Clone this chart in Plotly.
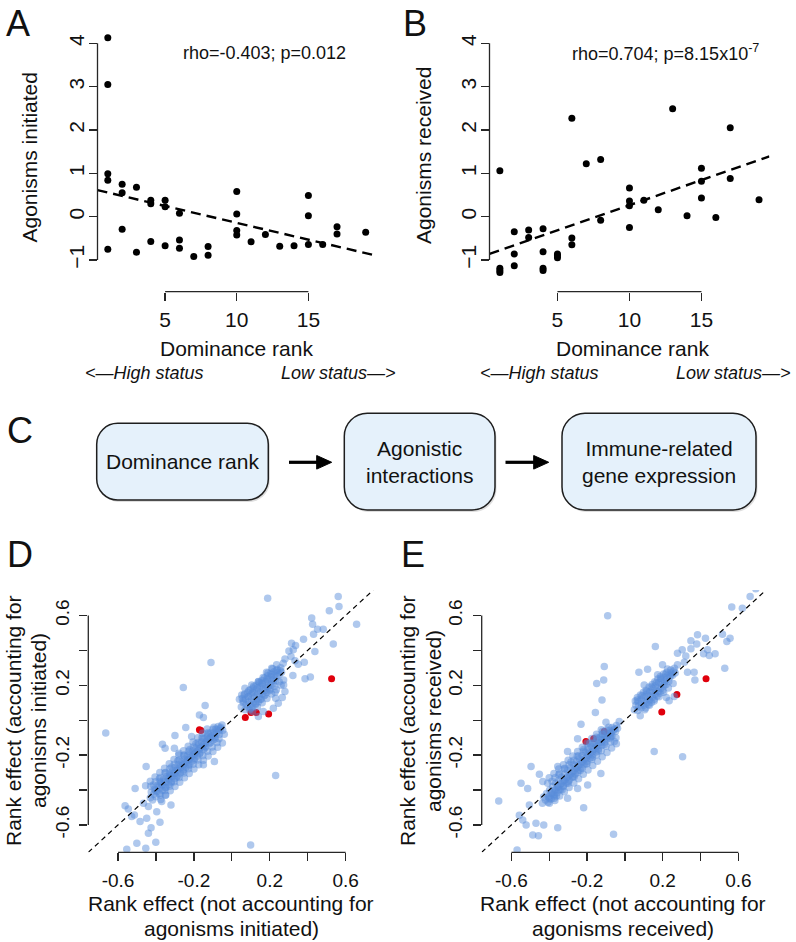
import plotly.graph_objects as go

W, H = 796, 942
FONT = "Liberation Sans, Arial, Helvetica, sans-serif"


def px(x):
    return x / W


def py(y):
    return 1 - y / H


# ---------------- Panel A / B data ----------------
rank_A = [1, 1, 1, 1, 1, 2, 2, 2, 3, 3, 4, 4, 4, 5, 5, 5, 6, 6, 6, 7, 8, 8,
          10, 10, 10, 10, 11, 12, 13, 14, 15, 15, 15, 16, 17, 17, 19]
agon_init = [4.13, 3.05, 0.99, 0.84, -0.75, 0.75, 0.55, -0.29, 0.68, -0.82,
             0.38, 0.30, -0.57, 0.38, 0.23, -0.67, 0.08, -0.54, -0.73, -0.92,
             -0.69, -0.89, 0.58, 0.06, -0.32, -0.42, -0.58, -0.41, -0.68, -0.67,
             0.49, 0.02, -0.64, -0.64, -0.23, -0.40, -0.36]

rank_B = [1, 1, 1, 1, 2, 2, 2, 3, 3, 4, 4, 4, 4, 5, 5, 5, 6, 6, 6, 7, 8, 8,
          10, 10, 10, 10, 11, 12, 13, 14, 15, 15, 15, 16, 17, 17, 19]
agon_recv = [1.06, -1.19, -1.24, -1.29, -0.35, -0.86, -1.13, -0.31, -0.48,
             -0.28, -0.81, -1.19, -1.24, -0.86, -0.90, -0.95, 2.27, -0.49, -0.65,
             1.22, 1.32, -0.08, 0.66, 0.36, 0.25, -0.25, 0.38, 0.16, 2.49, 0.02,
             1.12, 0.82, 0.43, -0.02, 2.05, 0.88, 0.39]

fit_A = {"intercept": 0.635, "slope": -0.0777}
fit_B = {"intercept": -0.89, "slope": 0.1156}
stats_A = "rho=-0.403; p=0.012"
stats_B = "rho=0.704; p=8.15x10<sup>-7</sup>"

rank_range = [0.28, 19.72]
agon_range = [-1.507, 4.347]
rank_ticks = [5, 10, 15]
agon_ticks = [-1, 0, 1, 2, 3, 4]

# ---------------- Panel C ----------------
flow_boxes = ["Dominance rank", "Agonistic<br>interactions",
              "Immune-related<br>gene expression"]

# ---------------- Panel D / E data ----------------
effect_range = [-0.757, 0.746]
effect_label_ticks = [-0.6, -0.2, 0.2, 0.6]
effect_minor_ticks = [-0.4, 0, 0.4]
effect_ticktext = ["-0.6", "-0.2", "0.2", "0.6"]

d_core_neg = [
    (-0.052, -0.028), (-0.060, -0.048), (-0.048, -0.058), (-0.072, -0.036), (-0.070, -0.062),
    (-0.085, -0.050), (-0.080, -0.075), (-0.095, -0.070), (-0.066, -0.082), (-0.100, -0.052),
    (-0.105, -0.090), (-0.090, -0.098), (-0.115, -0.075), (-0.118, -0.105), (-0.100, -0.115),
    (-0.128, -0.092), (-0.135, -0.122), (-0.120, -0.135), (-0.145, -0.105), (-0.150, -0.140),
    (-0.138, -0.152), (-0.160, -0.125), (-0.165, -0.158), (-0.150, -0.170), (-0.175, -0.140),
    (-0.180, -0.175), (-0.168, -0.188), (-0.190, -0.160), (-0.195, -0.192), (-0.182, -0.205),
    (-0.205, -0.175), (-0.210, -0.208), (-0.196, -0.220), (-0.220, -0.190), (-0.225, -0.225),
    (-0.212, -0.238), (-0.236, -0.205), (-0.240, -0.240), (-0.226, -0.254), (-0.250, -0.222),
    (-0.255, -0.256), (-0.242, -0.270), (-0.266, -0.238), (-0.270, -0.272), (-0.256, -0.286),
    (-0.282, -0.255), (-0.286, -0.288), (-0.272, -0.302), (-0.298, -0.270), (-0.300, -0.305),
    (-0.288, -0.318), (-0.312, -0.288), (-0.316, -0.322), (-0.302, -0.335), (-0.328, -0.304),
    (-0.332, -0.338), (-0.318, -0.352), (-0.344, -0.322), (-0.348, -0.355), (-0.334, -0.368),
    (-0.360, -0.340), (-0.364, -0.372), (-0.350, -0.385), (-0.376, -0.358), (-0.380, -0.390),
    (-0.366, -0.402), (-0.392, -0.376), (-0.396, -0.408), (-0.382, -0.420), (-0.408, -0.396),
    (-0.412, -0.425), (-0.400, -0.438), (-0.425, -0.412), (-0.430, -0.445), (-0.418, -0.458),
    (-0.058, -0.040), (-0.078, -0.055), (-0.092, -0.082), (-0.110, -0.098), (-0.125, -0.110),
    (-0.140, -0.132), (-0.155, -0.148), (-0.172, -0.165), (-0.188, -0.182), (-0.202, -0.196),
    (-0.218, -0.214), (-0.232, -0.228), (-0.248, -0.244), (-0.262, -0.258), (-0.278, -0.272),
    (-0.292, -0.290), (-0.308, -0.304), (-0.322, -0.318), (-0.338, -0.334), (-0.354, -0.350),
    (-0.370, -0.368), (-0.386, -0.384), (-0.402, -0.402),
    (-0.088, -0.108), (-0.112, -0.128), (-0.142, -0.160), (-0.170, -0.192), (-0.200, -0.228),
    (-0.228, -0.262), (-0.258, -0.292), (-0.290, -0.325), (-0.320, -0.358), (-0.348, -0.386),
    (-0.095, -0.040), (-0.125, -0.070), (-0.158, -0.100), (-0.190, -0.135), (-0.222, -0.168),
    (-0.252, -0.200), (-0.285, -0.232), (-0.318, -0.268), (-0.350, -0.300), (-0.382, -0.335),
    (-0.050, -0.130), (-0.075, -0.155), (-0.100, -0.180), (-0.125, -0.205), (-0.150, -0.230),
    (-0.175, -0.255), (-0.200, -0.280), (-0.225, -0.305), (-0.250, -0.330), (-0.275, -0.355),
    (-0.300, -0.380), (-0.325, -0.405), (-0.350, -0.430), (-0.375, -0.455),
    (-0.130, -0.050), (-0.155, -0.075), (-0.180, -0.100), (-0.205, -0.125), (-0.230, -0.150),
    (-0.255, -0.175), (-0.280, -0.200), (-0.305, -0.225), (-0.330, -0.250), (-0.355, -0.275),
    (-0.380, -0.300), (-0.405, -0.325), (-0.430, -0.350), (-0.455, -0.375),
    (-0.078, -0.128), (-0.103, -0.153), (-0.128, -0.178), (-0.153, -0.203), (-0.178, -0.228),
    (-0.203, -0.253), (-0.228, -0.278), (-0.253, -0.303), (-0.278, -0.328), (-0.303, -0.353),
    (-0.328, -0.378), (-0.353, -0.403), (-0.378, -0.428),
    (-0.128, -0.078), (-0.153, -0.103), (-0.178, -0.128), (-0.203, -0.153), (-0.228, -0.178),
    (-0.253, -0.203), (-0.278, -0.228), (-0.303, -0.253), (-0.328, -0.278), (-0.353, -0.303),
    (-0.378, -0.328), (-0.403, -0.353), (-0.428, -0.378),
]

d_core_pos = [
    (0.050, 0.075), (0.060, 0.100), (0.055, 0.125), (0.070, 0.060), (0.075, 0.090), (0.072, 0.120),
    (0.068, 0.150), (0.085, 0.075), (0.090, 0.105), (0.088, 0.135), (0.084, 0.160), (0.095, 0.060),
    (0.100, 0.090), (0.105, 0.120), (0.102, 0.150), (0.098, 0.175), (0.110, 0.075), (0.115, 0.105),
    (0.120, 0.135), (0.118, 0.160), (0.125, 0.090), (0.112, 0.185), (0.130, 0.120), (0.135, 0.150),
    (0.132, 0.175), (0.140, 0.105), (0.128, 0.200), (0.145, 0.135), (0.150, 0.165), (0.148, 0.190),
    (0.155, 0.120), (0.145, 0.215), (0.160, 0.150), (0.165, 0.180), (0.162, 0.205), (0.170, 0.140),
    (0.158, 0.228), (0.175, 0.170), (0.180, 0.195), (0.178, 0.220), (0.185, 0.160), (0.172, 0.242),
    (0.190, 0.185), (0.195, 0.210), (0.192, 0.235), (0.200, 0.178), (0.188, 0.255), (0.205, 0.200),
    (0.210, 0.225), (0.208, 0.250), (0.218, 0.210), (0.205, 0.268), (0.220, 0.235), (0.225, 0.258),
    (0.232, 0.228), (0.222, 0.278), (0.238, 0.250), (0.242, 0.272), (0.250, 0.262), (0.240, 0.290),
    (0.255, 0.285), (0.262, 0.275), (0.258, 0.300),
    (0.040, 0.120), (0.065, 0.145), (0.090, 0.170), (0.115, 0.195), (0.140, 0.220), (0.165, 0.245),
    (0.190, 0.270), (0.215, 0.295),
    (0.110, 0.050), (0.135, 0.075), (0.160, 0.100), (0.185, 0.125), (0.210, 0.150), (0.235, 0.175),
    (0.260, 0.200),
    (0.060, 0.110), (0.085, 0.135), (0.110, 0.160), (0.135, 0.185), (0.160, 0.210), (0.185, 0.235),
    (0.210, 0.260), (0.235, 0.285),
    (0.100, 0.070), (0.125, 0.095), (0.150, 0.120), (0.175, 0.145), (0.200, 0.170), (0.225, 0.195),
    (0.250, 0.220),
]

d_spread = [
    (0.189, 0.699), (0.561, 0.709), (0.565, 0.651), (0.514, 0.627), (0.658, 0.550), (0.421, 0.585),
    (0.426, 0.550), (0.482, 0.521), (0.452, 0.521), (0.431, 0.493), (0.535, 0.436), (0.438, 0.394),
    (0.378, 0.464), (0.315, 0.441), (0.336, 0.428), (0.324, 0.403), (0.301, 0.397), (0.280, 0.351),
    (0.312, 0.365), (0.333, 0.340), (0.350, 0.321), (0.382, 0.332), (0.386, 0.237), (0.414, 0.248),
    (0.322, 0.256), (0.273, 0.231), (0.273, 0.202), (0.228, 0.160), (0.266, 0.130), (0.231, 0.126),
    (-0.110, 0.330), (-0.256, 0.187), (-0.141, 0.084), (-0.171, 0.030), (-0.150, 0.015),
    (-0.243, -0.042), (-0.665, -0.073), (0.231, -0.317), (0.099, -0.715),
    (-0.554, -0.740), (-0.454, -0.734), (-0.501, -0.705), (-0.401, -0.700), (-0.440, -0.648),
    (-0.426, -0.616), (-0.379, -0.585), (-0.484, -0.581), (-0.449, -0.562), (-0.528, -0.552),
    (-0.563, -0.490), (-0.546, -0.509), (-0.514, -0.543), (-0.510, -0.391), (-0.452, -0.266),
    (-0.366, -0.138), (-0.352, -0.161), (-0.303, -0.161), (-0.300, -0.088), (-0.279, -0.190),
    (-0.092, -0.237), (-0.150, -0.256), (-0.068, -0.107), (-0.040, -0.080),
    (-0.466, -0.476), (-0.440, -0.495), (-0.370, -0.466), (-0.321, -0.486), (-0.396, -0.524),
    (-0.349, -0.428), (-0.379, -0.352), (-0.414, -0.371), (-0.326, -0.314), (-0.212, -0.094),
    (0.105, 0.202), (0.140, 0.221), (0.183, 0.275), (0.210, 0.298), (0.236, 0.317), (0.271, 0.326),
    (0.052, 0.145), (0.069, 0.183), (0.140, 0.021), (0.166, 0.050), (0.219, 0.069), (0.245, 0.097),
    (0.280, 0.164),
]

d_red = [(0.526, 0.237), (0.194, 0.036), (0.129, 0.044), (0.101, 0.044), (0.071, 0.015),
         (-0.171, -0.055), (-0.163, -0.059)]

e_core_neg = [
    (-0.045, -0.030), (-0.055, -0.050), (-0.050, -0.065), (-0.068, -0.042), (-0.070, -0.068),
    (-0.082, -0.058), (-0.080, -0.085), (-0.095, -0.075), (-0.068, -0.090), (-0.098, -0.055),
    (-0.108, -0.095), (-0.095, -0.108), (-0.118, -0.080), (-0.122, -0.112), (-0.106, -0.125),
    (-0.132, -0.098), (-0.138, -0.130), (-0.122, -0.145), (-0.148, -0.115), (-0.152, -0.150),
    (-0.140, -0.165), (-0.162, -0.132), (-0.168, -0.168), (-0.152, -0.182), (-0.178, -0.150),
    (-0.184, -0.186), (-0.170, -0.200), (-0.194, -0.168), (-0.198, -0.204), (-0.184, -0.218),
    (-0.210, -0.185), (-0.214, -0.222), (-0.200, -0.236), (-0.226, -0.202), (-0.230, -0.240),
    (-0.216, -0.254), (-0.240, -0.220), (-0.246, -0.258), (-0.232, -0.272), (-0.256, -0.238),
    (-0.262, -0.276), (-0.248, -0.290), (-0.272, -0.255), (-0.276, -0.294), (-0.262, -0.308),
    (-0.288, -0.272), (-0.292, -0.312), (-0.278, -0.326), (-0.304, -0.290), (-0.308, -0.330),
    (-0.294, -0.344), (-0.318, -0.308), (-0.324, -0.348), (-0.310, -0.362), (-0.334, -0.326),
    (-0.340, -0.366), (-0.326, -0.380), (-0.350, -0.344), (-0.356, -0.384), (-0.342, -0.398),
    (-0.366, -0.362), (-0.372, -0.402), (-0.358, -0.416), (-0.382, -0.380), (-0.388, -0.420),
    (-0.374, -0.434), (-0.398, -0.400), (-0.404, -0.440), (-0.390, -0.452), (-0.414, -0.420),
    (-0.420, -0.458), (-0.406, -0.470), (-0.430, -0.440), (-0.436, -0.476),
    (-0.060, -0.058), (-0.076, -0.074), (-0.092, -0.092), (-0.110, -0.110), (-0.126, -0.128),
    (-0.142, -0.146), (-0.158, -0.164), (-0.174, -0.182), (-0.190, -0.200), (-0.206, -0.218),
    (-0.222, -0.236), (-0.238, -0.254), (-0.254, -0.272), (-0.270, -0.290), (-0.286, -0.308),
    (-0.302, -0.326), (-0.318, -0.344), (-0.334, -0.362), (-0.350, -0.380), (-0.366, -0.398),
    (-0.382, -0.416), (-0.398, -0.434),
    (-0.085, -0.040), (-0.118, -0.065), (-0.150, -0.098), (-0.185, -0.132), (-0.218, -0.168),
    (-0.252, -0.205), (-0.285, -0.240), (-0.318, -0.275), (-0.350, -0.312), (-0.385, -0.350),
    (-0.078, -0.102), (-0.108, -0.140), (-0.140, -0.176), (-0.172, -0.212), (-0.204, -0.250),
    (-0.236, -0.288), (-0.268, -0.324), (-0.300, -0.362), (-0.332, -0.398), (-0.362, -0.434),
    (-0.045, -0.135), (-0.070, -0.160), (-0.095, -0.185), (-0.120, -0.210), (-0.145, -0.235),
    (-0.170, -0.260), (-0.195, -0.285), (-0.220, -0.310), (-0.245, -0.335), (-0.270, -0.360),
    (-0.295, -0.385), (-0.320, -0.410), (-0.345, -0.435), (-0.370, -0.460),
    (-0.125, -0.055), (-0.150, -0.080), (-0.175, -0.105), (-0.200, -0.130), (-0.225, -0.155),
    (-0.250, -0.180), (-0.275, -0.205), (-0.300, -0.230), (-0.325, -0.255), (-0.350, -0.280),
    (-0.375, -0.305), (-0.400, -0.330),
    (-0.075, -0.125), (-0.100, -0.150), (-0.125, -0.175), (-0.150, -0.200), (-0.175, -0.225),
    (-0.200, -0.250), (-0.225, -0.275), (-0.250, -0.300), (-0.275, -0.325), (-0.300, -0.350),
    (-0.325, -0.375), (-0.350, -0.400), (-0.375, -0.425), (-0.400, -0.450),
    (-0.120, -0.080), (-0.145, -0.105), (-0.170, -0.130), (-0.195, -0.155), (-0.220, -0.180),
    (-0.245, -0.205), (-0.270, -0.230), (-0.295, -0.255), (-0.320, -0.280), (-0.345, -0.305),
    (-0.370, -0.330),
]

e_core_pos = [
    (0.050, 0.060), (0.058, 0.085), (0.055, 0.110), (0.068, 0.055), (0.072, 0.080), (0.070, 0.105),
    (0.066, 0.130), (0.085, 0.070), (0.088, 0.095), (0.086, 0.120), (0.082, 0.145), (0.100, 0.085),
    (0.104, 0.110), (0.102, 0.135), (0.098, 0.160), (0.110, 0.070), (0.116, 0.100), (0.120, 0.125),
    (0.118, 0.150), (0.124, 0.090), (0.112, 0.172), (0.130, 0.115), (0.135, 0.140), (0.132, 0.165),
    (0.140, 0.102), (0.128, 0.190), (0.146, 0.132), (0.150, 0.158), (0.148, 0.182), (0.155, 0.120),
    (0.144, 0.205), (0.160, 0.148), (0.165, 0.172), (0.162, 0.198), (0.170, 0.138), (0.158, 0.220),
    (0.176, 0.165), (0.180, 0.190), (0.178, 0.214), (0.186, 0.155), (0.174, 0.236), (0.190, 0.182),
    (0.196, 0.206), (0.192, 0.230), (0.200, 0.172), (0.188, 0.250), (0.206, 0.198), (0.210, 0.222),
    (0.208, 0.246), (0.218, 0.205), (0.204, 0.264), (0.220, 0.232), (0.226, 0.254), (0.232, 0.222),
    (0.222, 0.274), (0.238, 0.248), (0.244, 0.270), (0.252, 0.258), (0.242, 0.288), (0.258, 0.282),
    (0.266, 0.270), (0.262, 0.298),
    (0.065, 0.115), (0.090, 0.140), (0.115, 0.165), (0.140, 0.190), (0.165, 0.215), (0.190, 0.240),
    (0.215, 0.265),
    (0.105, 0.060), (0.130, 0.085), (0.155, 0.110), (0.180, 0.135), (0.205, 0.160), (0.230, 0.185),
    (0.255, 0.210),
]

e_spread = [
    (-0.091, 0.598), (0.692, 0.753), (0.662, 0.709), (0.565, 0.648), (0.621, 0.642), (0.516, 0.493),
    (0.556, 0.470), (0.539, 0.451), (0.528, 0.298), (0.477, 0.380), (0.446, 0.370), (0.416, 0.380),
    (0.437, 0.403), (0.384, 0.489), (0.426, 0.470), (0.380, 0.436), (0.349, 0.455), (0.349, 0.409),
    (0.303, 0.403), (0.278, 0.384), (0.322, 0.368), (0.370, 0.231), (0.331, 0.275), (0.366, 0.275),
    (0.161, 0.422), (0.074, 0.275), (0.120, 0.292), (0.081, 0.025), (0.219, 0.130), (0.234, 0.111),
    (0.261, 0.136), (0.155, -0.180), (0.305, -0.209),
    (-0.109, 0.307), (-0.149, 0.210), (-0.112, 0.231), (-0.121, 0.116), (-0.156, 0.044),
    (-0.100, -0.012), (-0.232, -0.023), (-0.030, -0.008), (-0.047, -0.100), (-0.250, -0.107),
    (-0.127, -0.306),
    (-0.496, -0.266), (-0.549, -0.362), (-0.514, -0.391), (-0.452, -0.310), (-0.434, -0.352),
    (-0.408, -0.362), (-0.505, -0.486), (-0.558, -0.544), (-0.540, -0.572), (-0.487, -0.658),
    (-0.457, -0.662), (-0.355, -0.616), (-0.429, -0.600), (-0.470, -0.591), (-0.522, -0.600),
    (-0.218, -0.502), (-0.570, -0.744), (-0.667, -0.463), (-0.060, -0.654),
    (-0.303, -0.180), (-0.355, -0.266), (-0.373, -0.448), (-0.399, -0.476), (-0.303, -0.448),
    (-0.250, -0.391), (-0.197, -0.371), (-0.074, -0.094), (-0.039, -0.046), (-0.056, -0.122),
    (0.243, 0.260), (0.278, 0.317), (0.314, 0.332), (0.225, 0.294), (0.199, 0.317), (0.173, 0.260),
    (0.102, 0.202),
]

e_red = [(0.429, 0.237), (0.275, 0.147), (0.195, 0.047), (-0.109, -0.065), (-0.165, -0.107),
         (-0.206, -0.122)]

# ---------------- styles ----------------
BLUE = "rgba(88,140,218,0.48)"
RED = "#e0000c"
AXC = "#262626"

fig = go.Figure()


def xs(pts):
    return [p[0] for p in pts]


def ys(pts):
    return [p[1] for p in pts]


# Panel A
fig.add_trace(go.Scatter(x=rank_A, y=agon_init, mode="markers", xaxis="x", yaxis="y",
                         marker=dict(color="black", size=7), showlegend=False))
fig.add_trace(go.Scatter(x=rank_range,
                         y=[fit_A["intercept"] + fit_A["slope"] * v for v in rank_range],
                         mode="lines", xaxis="x", yaxis="y",
                         line=dict(color="black", width=2.4, dash="10px,6px"), showlegend=False))
# Panel B
fig.add_trace(go.Scatter(x=rank_B, y=agon_recv, mode="markers", xaxis="x2", yaxis="y2",
                         marker=dict(color="black", size=7), showlegend=False))
fig.add_trace(go.Scatter(x=rank_range,
                         y=[fit_B["intercept"] + fit_B["slope"] * v for v in rank_range],
                         mode="lines", xaxis="x2", yaxis="y2",
                         line=dict(color="black", width=2.4, dash="10px,6px"), showlegend=False))

# Panel D
d_blue = d_spread + d_core_neg + d_core_pos
fig.add_trace(go.Scatter(x=xs(d_red), y=ys(d_red), mode="markers", xaxis="x3", yaxis="y3",
                         marker=dict(color=RED, size=7), showlegend=False))
fig.add_trace(go.Scatter(x=xs(d_blue), y=ys(d_blue), mode="markers", xaxis="x3", yaxis="y3",
                         marker=dict(color=BLUE, size=7.5), showlegend=False))
fig.add_trace(go.Scatter(x=effect_range, y=effect_range, mode="lines", xaxis="x3", yaxis="y3",
                         line=dict(color="black", width=1.2, dash="5px,4px"), showlegend=False))
# Panel E
e_blue = e_spread + e_core_neg + e_core_pos
fig.add_trace(go.Scatter(x=xs(e_red), y=ys(e_red), mode="markers", xaxis="x4", yaxis="y4",
                         marker=dict(color=RED, size=7), showlegend=False))
fig.add_trace(go.Scatter(x=xs(e_blue), y=ys(e_blue), mode="markers", xaxis="x4", yaxis="y4",
                         marker=dict(color=BLUE, size=7.5), showlegend=False))
fig.add_trace(go.Scatter(x=effect_range, y=effect_range, mode="lines", xaxis="x4", yaxis="y4",
                         line=dict(color="black", width=1.2, dash="5px,4px"), showlegend=False))

tick_common = dict(ticks="outside", ticklen=8, tickwidth=1.3, tickcolor=AXC,
                   showline=False, showgrid=False, zeroline=False, fixedrange=True)
minor_common = dict(tickvals=effect_minor_ticks, ticks="outside", ticklen=8, tickwidth=1.3,
                    tickcolor=AXC, showgrid=False)

AB_Y_DOMAIN = [py(282.0), py(28.3)]
DE_Y_DOMAIN = [py(852.3), py(590)]

layout = dict(
    width=W, height=H, margin=dict(l=0, r=0, t=0, b=0),
    paper_bgcolor="white", plot_bgcolor="white",
    font=dict(family=FONT, color="#111"),
    hovermode=False,
    xaxis=dict(domain=[px(97.5), px(376)], range=rank_range, anchor="free",
               position=py(291.7), tickvals=rank_ticks, tickfont=dict(size=21),
               ticklabelstandoff=1, **tick_common),
    yaxis=dict(domain=AB_Y_DOMAIN, range=agon_range, anchor="x",
               tickvals=agon_ticks, tickangle=-90, tickfont=dict(size=21),
               ticklabelstandoff=-4, **tick_common),
    xaxis2=dict(domain=[px(489.5), px(769.4)], range=rank_range, anchor="free",
                position=py(291.7), tickvals=rank_ticks, tickfont=dict(size=21),
                ticklabelstandoff=1, **tick_common),
    yaxis2=dict(domain=AB_Y_DOMAIN, range=agon_range, anchor="x2",
                tickvals=agon_ticks, tickangle=-90, tickfont=dict(size=21),
                ticklabelstandoff=-4, **tick_common),
    xaxis3=dict(domain=[px(88.3), px(373.3)], range=effect_range, anchor="y3",
                tickvals=effect_label_ticks, ticktext=effect_ticktext, tickfont=dict(size=19),
                minor=minor_common, ticklabelstandoff=3, **tick_common),
    yaxis3=dict(domain=DE_Y_DOMAIN, range=effect_range, anchor="x3",
                tickvals=effect_label_ticks, ticktext=effect_ticktext, tickangle=-90,
                minor=minor_common, tickfont=dict(size=19), ticklabelstandoff=3, **tick_common),
    xaxis4=dict(domain=[px(481.7), px(766)], range=effect_range, anchor="y4",
                tickvals=effect_label_ticks, ticktext=effect_ticktext, tickfont=dict(size=19),
                minor=minor_common, ticklabelstandoff=3, **tick_common),
    yaxis4=dict(domain=DE_Y_DOMAIN, range=effect_range, anchor="x4",
                tickvals=effect_label_ticks, ticktext=effect_ticktext, tickangle=-90,
                minor=minor_common, tickfont=dict(size=19), ticklabelstandoff=3, **tick_common),
)

shapes = []


def axis_line_x(xref, v0, v1, ypix):
    shapes.append(dict(type="line", xref=xref, yref="paper", x0=v0, x1=v1,
                       y0=py(ypix), y1=py(ypix), line=dict(color=AXC, width=1.3)))


def axis_line_y(yref, v0, v1, xpix):
    shapes.append(dict(type="line", xref="paper", yref=yref, x0=px(xpix), x1=px(xpix),
                       y0=v0, y1=v1, line=dict(color=AXC, width=1.3)))


axis_line_x("x", rank_ticks[0], rank_ticks[-1], 291.7)
axis_line_y("y", agon_ticks[0], agon_ticks[-1], 97.5)
axis_line_x("x2", rank_ticks[0], rank_ticks[-1], 291.7)
axis_line_y("y2", agon_ticks[0], agon_ticks[-1], 489.5)
axis_line_x("x3", effect_label_ticks[0], effect_label_ticks[-1], 852.3)
axis_line_y("y3", effect_label_ticks[0], effect_label_ticks[-1], 88.3)
axis_line_x("x4", effect_label_ticks[0], effect_label_ticks[-1], 852.3)
axis_line_y("y4", effect_label_ticks[0], effect_label_ticks[-1], 481.7)


def rrect_path(x0, y0, x1, y1, r):
    k = 0.5523 * r
    pts = [
        ("M", [(x0 + r, y0)]),
        ("L", [(x1 - r, y0)]),
        ("C", [(x1 - r + k, y0), (x1, y0 + r - k), (x1, y0 + r)]),
        ("L", [(x1, y1 - r)]),
        ("C", [(x1, y1 - r + k), (x1 - r + k, y1), (x1 - r, y1)]),
        ("L", [(x0 + r, y1)]),
        ("C", [(x0 + r - k, y1), (x0, y1 - r + k), (x0, y1 - r)]),
        ("L", [(x0, y0 + r)]),
        ("C", [(x0, y0 + r - k), (x0 + r - k, y0), (x0 + r, y0)]),
    ]
    s = ""
    for cmd, ps in pts:
        s += cmd + " " + " ".join(f"{px(a):.5f},{py(b):.5f}" for a, b in ps) + " "
    return s + "Z"


box_geom = [(96.7, 423.3, 268.3, 500.0, 21), (344.3, 413.3, 495.0, 510.0, 23),
            (562.0, 413.3, 756.0, 510.0, 23)]
for (x0, y0, x1, y1, r) in box_geom:
    shapes.append(dict(type="path", xref="paper", yref="paper",
                       path=rrect_path(x0 + 1.5, y0 + 2, x1 + 1.5, y1 + 2, r),
                       fillcolor="rgba(0,0,0,0.13)", line=dict(width=0)))
    shapes.append(dict(type="path", xref="paper", yref="paper",
                       path=rrect_path(x0, y0, x1, y1, r),
                       fillcolor="#e5f1fb", line=dict(color="#1e1e1e", width=1.5)))

for (xa, xb) in [(289, 331.7), (505.5, 548.7)]:
    yc = 462.3
    shapes.append(dict(type="line", xref="paper", yref="paper", x0=px(xa), x1=px(xb - 14),
                       y0=py(yc), y1=py(yc), line=dict(color="black", width=3.2)))
    tri = (f"M {px(xb - 15):.5f},{py(yc - 6.8):.5f} L {px(xb):.5f},{py(yc):.5f} "
           f"L {px(xb - 15):.5f},{py(yc + 6.8):.5f} Z")
    shapes.append(dict(type="path", xref="paper", yref="paper", path=tri,
                       fillcolor="black", line=dict(color="black", width=1)))

layout["shapes"] = shapes

annotations = []


def ann(text, x, y, size, angle=0, xanchor="center", yanchor="middle"):
    annotations.append(dict(text=text, x=px(x), y=py(y), xref="paper", yref="paper",
                            showarrow=False, xanchor=xanchor, yanchor=yanchor,
                            textangle=angle, font=dict(size=size, family=FONT, color="#111")))


# panel letters
for letter, (lx, ly) in {"A": (18, 24), "B": (415, 24), "C": (20, 430),
                         "D": (20, 554), "E": (413, 554)}.items():
    ann(letter, lx, ly, 36)

# A / B texts
ann(stats_A, 264.7, 53, 18)
ann(stats_B, 570, 53, 18, xanchor="left")
ann("Agonisms initiated", 29, 157.5, 21, angle=-90)
ann("Agonisms received", 424, 156, 21, angle=-90)
ann("Dominance rank", 236.7, 348.5, 21)
ann("Dominance rank", 632.7, 348.5, 21)
ann("<i>&lt;—High status</i>", 83, 373, 18, xanchor="left")
ann("<i>Low status—&gt;</i>", 398, 373, 18, xanchor="right")
ann("<i>&lt;—High status</i>", 478, 373, 18, xanchor="left")
ann("<i>Low status—&gt;</i>", 793, 373, 18, xanchor="right")

# C texts
ann(flow_boxes[0], 182.5, 461.7, 21)
ann(flow_boxes[1], 419.7, 461.7, 21)
ann(flow_boxes[2], 659, 461.7, 21)

# D / E titles (one annotation per line)
ann("Rank effect (accounting for", 13, 721, 21, angle=-90)
ann("agonisms initiated)", 38, 721, 21, angle=-90)
ann("Rank effect (accounting for", 407, 721, 21, angle=-90)
ann("agonisms received)", 433, 721, 21, angle=-90)
ann("Rank effect (not accounting for", 231, 903, 21)
ann("agonisms initiated)", 231, 928, 21)
ann("Rank effect (not accounting for", 622.8, 903, 21)
ann("agonisms received)", 622.8, 928, 21)

layout["annotations"] = annotations
fig.update_layout(**layout)
# remove the browser's default 8px body margin so the 796x942 figure fills the window
fig.write_html("out.html", config={"displayModeBar": False, "staticPlot": True},
               post_script="document.body.style.margin='0px';")
